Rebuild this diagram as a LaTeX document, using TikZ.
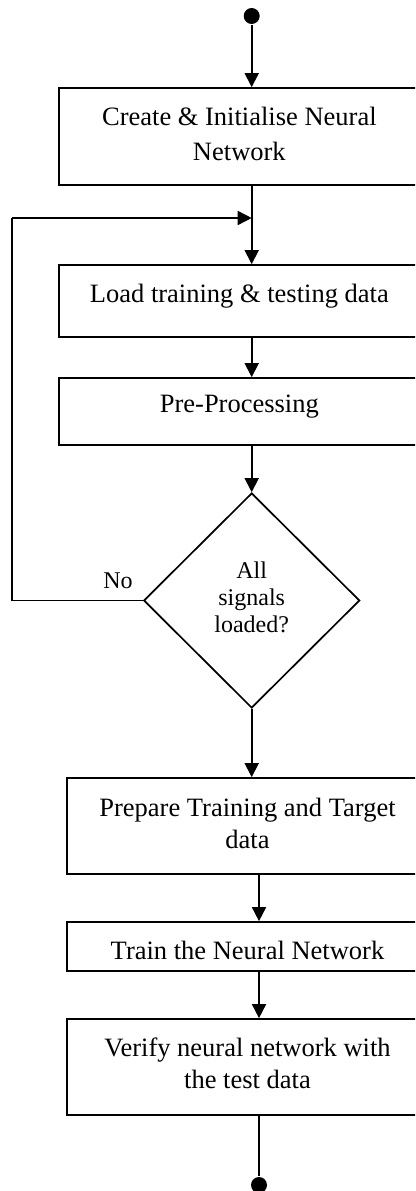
\documentclass[tikz,border=0pt]{standalone}
\usepackage{fontspec}
\setmainfont{Liberation Serif}
\usetikzlibrary{arrows.meta,shapes.geometric}
\begin{document}
\begin{tikzpicture}[x=1pt,y=-1pt,
  line width=1.7pt,
  box/.style={draw,rectangle,inner sep=0pt,minimum width=361.3pt},
  lbl/.style={align=center,font=\fontsize{26.5}{32}\selectfont,inner sep=0pt},
  dlbl/.style={align=center,font=\fontsize{24}{27}\selectfont,inner sep=0pt},
  arr/.style={-{Triangle[length=14pt,width=14pt]}},
  dot/.style={circle,fill,inner sep=0pt,minimum size=16pt}]
\clip (0,0) rectangle (415,1191);
\useasboundingbox (0,0) rectangle (415,1191);
\node[dot] (start) at (251.7,16) {};
\node[box,minimum height=97pt,label={[lbl,yshift=3pt]center:{Create \& Initialise Neural\\[3pt]Network}}] (b1) at (239.35,136.5) {};
\coordinate (j) at (251.7,218);
\node[box,minimum height=72pt,label={[lbl,yshift=5pt]center:{Load training \& testing data}}] (b2) at (239.35,301) {};
\node[box,minimum height=67pt,label={[lbl,yshift=4.5pt]center:{Pre-Processing}}] (b3) at (239.35,411.5) {};
\node[draw,diamond,inner sep=0pt,minimum width=216pt,minimum height=215pt,label={[dlbl,yshift=3.5pt]center:{All\\signals\\loaded?}}] (d) at (251.7,600.5) {};
\node[dlbl] (no) at (118,581) {No};
\coordinate (lb) at (12,602);
\coordinate (lt) at (12,218);
\node[box,minimum width=361pt,minimum height=96pt,label={[lbl,yshift=3pt]center:{Prepare Training and Target\\data}}] (b4) at (247.5,826) {};
\node[box,minimum width=361pt,minimum height=49pt,label={[lbl,yshift=-4pt]center:{Train the Neural Network}}] (b5) at (247.5,946.5) {};
\node[box,minimum width=361pt,minimum height=96pt,label={[lbl,yshift=4pt]center:{Verify neural network with\\the test data}}] (b6) at (247.5,1067) {};
\node[dot] (end) at (259,1185) {};
\draw[arr] (start) -- (start |- b1.north);
\draw[arr] (b1.south -| start) -- (b2.north -| start);
\draw[arr] (b2.south -| start) -- (b3.north -| start);
\draw[arr] (b3.south -| start) -- (d.north);
\draw (d.west) -- (d.west -| lb) -- (lt);
\draw[arr] (lt) -- (j);
\draw[arr] (d.south) -- (b4.north -| d.south);
\draw[arr] (b4.south -| end) -- (b5.north -| end);
\draw[arr] (b5.south -| end) -- (b6.north -| end);
\draw (b6.south -| end) -- (end);
\end{tikzpicture}
\end{document}
